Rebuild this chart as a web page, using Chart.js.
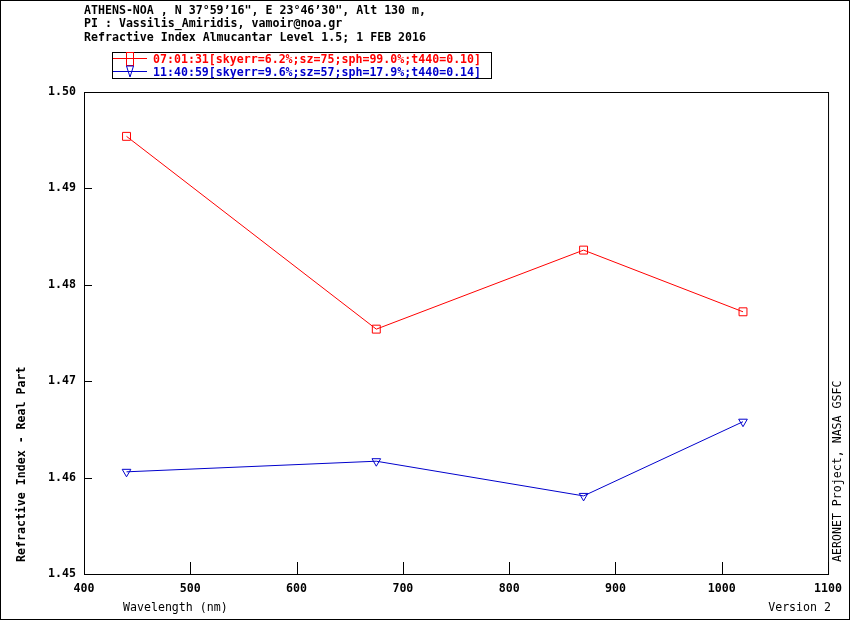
<!DOCTYPE html>
<html>
<head>
<meta charset="utf-8">
<script src="https://cdn.jsdelivr.net/npm/chart.js@4.4.1/dist/chart.umd.min.js"></script>
<style>
  html, body { margin: 0; padding: 0; background: #fff; }
  canvas { display: block; }
</style>
</head>
<body>
<canvas id="chart" width="850" height="620"></canvas>
<script>
// values
const wavelengths = [440, 675, 870, 1020];
const morningValues = [1.4954, 1.4754, 1.4836, 1.4772];
const noonValues = [1.4606, 1.4617, 1.4581, 1.4658];
const seriesLabels = [
    '07:01:31[skyerr=6.2%;sz=75;sph=99.0%;t440=0.10]',
    '11:40:59[skyerr=9.6%;sz=57;sph=17.9%;t440=0.14]'
];
const xTicks = [400, 500, 600, 700, 800, 900, 1000, 1100];
const yTicks = [1.45, 1.46, 1.47, 1.48, 1.49, 1.50];
const titleLines = [
    'ATHENS-NOA , N 37°59’16", E 23°46’30", Alt 130 m,',
    'PI : Vassilis_Amiridis, vamoir@noa.gr',
    'Refractive Index Almucantar Level 1.5; 1 FEB 2016'
];

const RED = '#ff0000';
const BLUE = '#0000cc';
const MONO = '"DejaVu Sans Mono", "Liberation Mono", monospace';
const BOLD = 'bold 11.6px ' + MONO;
const PLAIN = '11.6px ' + MONO;

Chart.defaults.font.family = MONO;
Chart.defaults.color = '#000';

// frame, inner ticks, titles and the boxed legend
const decorPlugin = {
    id: 'decor',
    afterDraw(chart) {
        const ctx = chart.ctx;
        const a = chart.chartArea;
        const xs = chart.scales.x, ys = chart.scales.y;
        ctx.save();
        ctx.strokeStyle = '#000';
        ctx.lineWidth = 1;

        ctx.strokeRect(0.5, 0.5, chart.width - 1, chart.height - 1);
        ctx.strokeRect(a.left + 0.5, a.top + 0.5, a.right - a.left, a.bottom - a.top);

        ctx.beginPath();
        xTicks.forEach(v => {
            const px = Math.round(xs.getPixelForValue(v)) + 0.5;
            ctx.moveTo(px, a.bottom);
            ctx.lineTo(px, a.bottom - 12);
        });
        yTicks.forEach(v => {
            const py = Math.round(ys.getPixelForValue(v)) + 0.5;
            ctx.moveTo(a.left, py);
            ctx.lineTo(a.left + 8, py);
        });
        ctx.stroke();

        ctx.fillStyle = '#000';
        ctx.textAlign = 'left';
        ctx.textBaseline = 'alphabetic';
        ctx.font = BOLD;
        titleLines.forEach((t, i) => ctx.fillText(t, 84, 13.5 + i * 13.5));

        ctx.font = PLAIN;
        ctx.fillText('Wavelength (nm)', 123, 611);
        ctx.textAlign = 'right';
        ctx.fillText('Version 2', 831, 611);

        // rotated labels
        ctx.textAlign = 'left';
        ctx.save();
        ctx.translate(25, 562);
        ctx.rotate(-Math.PI / 2);
        ctx.font = BOLD;
        ctx.fillText('Refractive Index - Real Part', 0, 0);
        ctx.restore();
        ctx.save();
        ctx.translate(841, 562);
        ctx.rotate(-Math.PI / 2);
        ctx.font = PLAIN;
        ctx.fillText('AERONET Project, NASA GSFC', 0, 0);
        ctx.restore();

        // legend box
        ctx.strokeRect(112.5, 52.5, 379, 26);
        ctx.font = BOLD;
        const rows = [
            { color: RED, y: 58.5, label: seriesLabels[0] },
            { color: BLUE, y: 71.5, label: seriesLabels[1] }
        ];
        rows.forEach((r, i) => {
            ctx.strokeStyle = r.color;
            ctx.fillStyle = r.color;
            ctx.beginPath();
            ctx.moveTo(113, r.y);
            ctx.lineTo(147, r.y);
            ctx.stroke();
            if (i === 0) {
                ctx.strokeRect(126.5, 52.5, 7, 13);
            } else {
                ctx.beginPath();
                ctx.moveTo(126.5, 66);
                ctx.lineTo(133.5, 66);
                ctx.lineTo(130, 77);
                ctx.closePath();
                ctx.stroke();
            }
            ctx.fillText(r.label, 153, r.y + 4);
        });
        ctx.restore();
    }
};

new Chart(document.getElementById('chart'), {
    type: 'line',
    data: {
        datasets: [{
            label: seriesLabels[0],
            data: wavelengths.map((w, i) => ({ x: w, y: morningValues[i] })),
            borderColor: RED,
            borderWidth: 1,
            pointStyle: 'rect',
            pointRadius: 5.6,
            pointBorderWidth: 1,
            pointBorderColor: RED,
            pointBackgroundColor: 'transparent',
            tension: 0
        }, {
            label: seriesLabels[1],
            data: wavelengths.map((w, i) => ({ x: w, y: noonValues[i] })),
            borderColor: BLUE,
            borderWidth: 1,
            pointStyle: 'triangle',
            pointRotation: 180,
            pointRadius: 5,
            pointBorderWidth: 1,
            pointBorderColor: BLUE,
            pointBackgroundColor: 'transparent',
            tension: 0
        }]
    },
    options: {
        responsive: false,
        animation: false,
        layout: { padding: { left: 0, top: 92, right: 21, bottom: 0 } },
        plugins: { legend: { display: false }, tooltip: { enabled: false } },
        scales: {
            x: {
                type: 'linear',
                min: 400,
                max: 1100,
                afterBuildTicks: s => { s.ticks = xTicks.map(v => ({ value: v })); },
                afterFit: s => { s.height = 46; },
                grid: { display: false, drawTicks: false },
                border: { display: false },
                ticks: {
                    font: { size: 11.6, weight: 'bold' }, color: '#000', padding: 8,
                    maxRotation: 0, autoSkip: false,
                    callback: v => String(v)
                }
            },
            y: {
                type: 'linear',
                min: 1.45,
                max: 1.50,
                afterBuildTicks: s => { s.ticks = yTicks.map(v => ({ value: v })); },
                afterFit: s => { s.width = 84; },
                grid: { display: false, drawTicks: false },
                border: { display: false },
                ticks: {
                    font: { size: 11.6, weight: 'bold' }, color: '#000', padding: 8,
                    callback: v => v.toFixed(2)
                }
            }
        }
    },
    plugins: [decorPlugin]
});
</script>
</body>
</html>
